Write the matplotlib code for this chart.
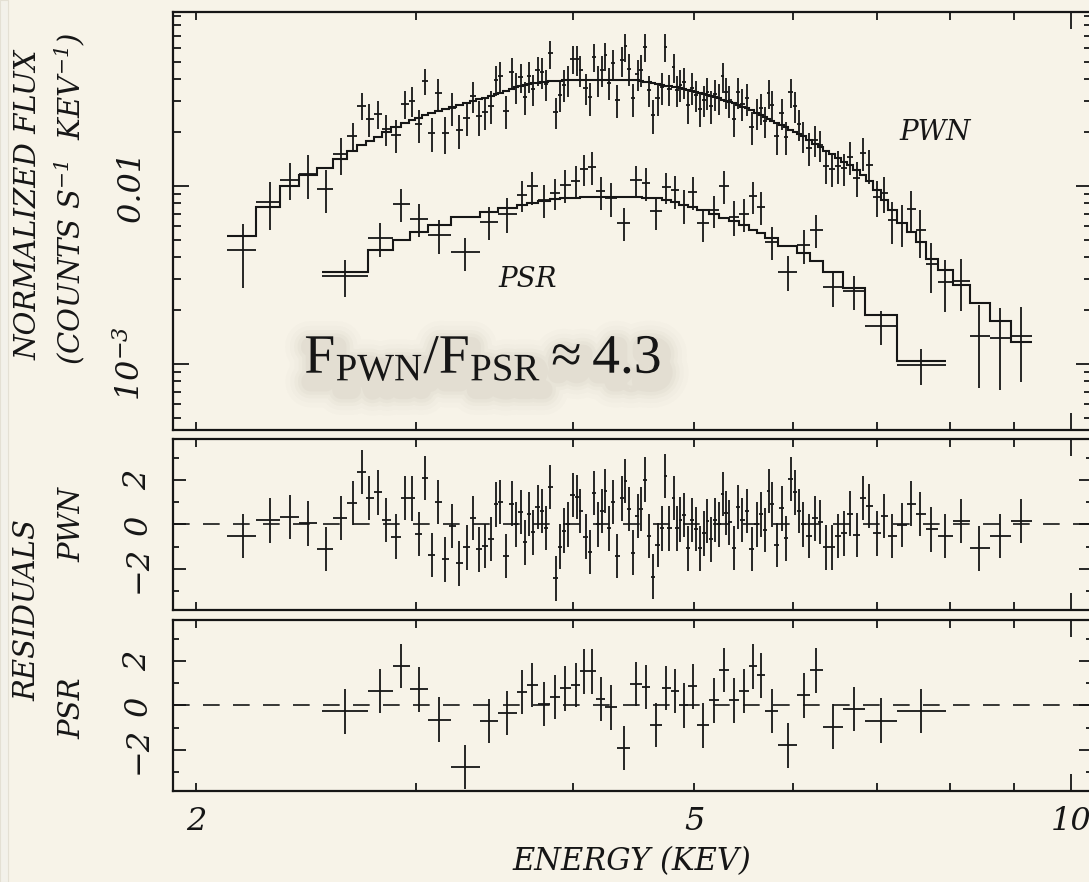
import numpy as np
import matplotlib
matplotlib.use('Agg')
import matplotlib.pyplot as plt
import matplotlib.patheffects as pe
from matplotlib import ticker
from matplotlib.patches import Rectangle

# ---- PSR: bin edges (keV), folded model, residuals (sigma), fractional errors
psr_edges = [2.522, 2.742, 2.873, 2.963, 3.064, 3.197, 3.370, 3.487, 3.606, 3.676,
             3.751, 3.837, 3.908, 3.984, 4.056, 4.113, 4.174, 4.244, 4.338, 4.446,
             4.542, 4.609, 4.710, 4.788, 4.862, 4.946, 5.023, 5.135, 5.236, 5.327,
             5.429, 5.530, 5.607, 5.695, 5.836, 6.043, 6.186, 6.332, 6.577, 6.845,
             7.256, 7.942]
psr_model = [3.30e-3, 4.37e-3, 4.97e-3, 5.54e-3, 6.04e-3, 6.72e-3, 7.19e-3, 7.52e-3,
             7.82e-3, 8.02e-3, 8.24e-3, 8.40e-3, 8.51e-3, 8.62e-3, 8.68e-3, 8.71e-3,
             8.73e-3, 8.73e-3, 8.71e-3, 8.68e-3, 8.62e-3, 8.51e-3, 8.34e-3, 8.13e-3,
             7.82e-3, 7.62e-3, 7.33e-3, 6.96e-3, 6.65e-3, 6.40e-3, 6.04e-3, 5.66e-3,
             5.46e-3, 5.08e-3, 4.60e-3, 4.19e-3, 3.80e-3, 3.30e-3, 2.66e-3, 1.88e-3,
             1.04e-3]
psr_resid = [-0.27, 0.66, 1.79, 0.72, -0.64, -2.78, -0.69, -0.34, 0.60, 0.93,
             0.06, 0.39, 0.77, 0.93, 1.53, 1.53, 0.30, -0.09, -1.92, 0.96,
             0.83, -0.87, 0.78, 0.66, 0.00, 0.86, -0.90, 0.23, 1.59, 0.23,
             0.65, 1.76, 1.35, -0.24, -1.80, 0.45, 1.58, -0.95, -0.16, -0.68,
             -0.24]
psr_ferr = [0.23, 0.22, 0.21, 0.21, 0.22, 0.21, 0.21, 0.22, 0.20, 0.21,
            0.21, 0.20, 0.21, 0.21, 0.20, 0.21, 0.21, 0.22, 0.21, 0.20,
            0.21, 0.21, 0.20, 0.21, 0.22, 0.21, 0.21, 0.20, 0.21, 0.22,
            0.21, 0.20, 0.21, 0.21, 0.22, 0.22, 0.21, 0.23, 0.22, 0.22,
            0.225]

# ---- PWN: bin centres (keV), outer edges, model, residuals, fractional errors
pwn_energy = [2.181, 2.290, 2.377, 2.457, 2.539, 2.611, 2.668, 2.714, 2.751, 2.794,
              2.837, 2.888, 2.939, 2.974, 3.012, 3.049, 3.085, 3.121, 3.162, 3.203,
              3.246, 3.290, 3.327, 3.364, 3.405, 3.443, 3.472, 3.500, 3.537, 3.576,
              3.603, 3.634, 3.663, 3.692, 3.719, 3.749, 3.777, 3.807, 3.835, 3.875,
              3.908, 3.937, 3.966, 3.998, 4.028, 4.055, 4.095, 4.128, 4.158, 4.189,
              4.218, 4.246, 4.275, 4.304, 4.340, 4.376, 4.405, 4.437, 4.470, 4.506,
              4.536, 4.565, 4.598, 4.632, 4.675, 4.710, 4.741, 4.776, 4.815, 4.844,
              4.874, 4.904, 4.940, 4.980, 5.016, 5.053, 5.091, 5.122, 5.157, 5.198,
              5.233, 5.269, 5.298, 5.333, 5.377, 5.416, 5.462, 5.507, 5.561, 5.609,
              5.650, 5.695, 5.734, 5.769, 5.819, 5.873, 5.916, 5.974, 6.015, 6.063,
              6.111, 6.178, 6.244, 6.301, 6.371, 6.438, 6.513, 6.586, 6.659, 6.741,
              6.824, 6.899, 6.994, 7.092, 7.198, 7.331, 7.449, 7.574, 7.729, 7.935,
              8.167, 8.447, 8.774, 9.120]
pwn_lo, pwn_hi = 2.116, 9.301
pwn_model = [0.00526, 0.00765, 0.01000, 0.01153, 0.01257, 0.01413, 0.01579, 0.01699, 0.01789, 0.01892,
             0.02019, 0.02154, 0.02268, 0.02349, 0.02419, 0.02506, 0.02582, 0.02639, 0.02708, 0.02790,
             0.02852, 0.02938, 0.03003, 0.03069, 0.03134, 0.03216, 0.03288, 0.03352, 0.03440, 0.03530,
             0.03599, 0.03646, 0.03693, 0.03741, 0.03776, 0.03805, 0.03840, 0.03855, 0.03874, 0.03890,
             0.03905, 0.03925, 0.03940, 0.03945, 0.03950, 0.03950, 0.03955, 0.03955, 0.03955, 0.03955,
             0.03955, 0.03955, 0.03950, 0.03950, 0.03950, 0.03945, 0.03945, 0.03940, 0.03935, 0.03920,
             0.03890, 0.03865, 0.03825, 0.03791, 0.03741, 0.03707, 0.03669, 0.03631, 0.03599, 0.03584,
             0.03552, 0.03530, 0.03484, 0.03440, 0.03387, 0.03330, 0.03288, 0.03258, 0.03225, 0.03162,
             0.03122, 0.03062, 0.03022, 0.02976, 0.02915, 0.02852, 0.02797, 0.02733, 0.02657, 0.02574,
             0.02506, 0.02440, 0.02376, 0.02333, 0.02272, 0.02200, 0.02145, 0.02065, 0.02012, 0.01961,
             0.01910, 0.01813, 0.01721, 0.01655, 0.01583, 0.01513, 0.01437, 0.01364, 0.01312, 0.01230,
             0.01153, 0.01067, 0.00950, 0.00834, 0.00733, 0.00622, 0.00554, 0.00486, 0.00389, 0.00337,
             0.00278, 0.00220, 0.00174, 0.00133]
pwn_resid = [-0.51, 0.18, 0.34, 0.05, -1.11, 0.28, 0.96, 2.35, 1.20, 1.44,
             0.19, -0.55, 1.20, 1.17, -0.43, 2.10, -1.38, 1.02, -1.57, -0.07,
             -1.75, -1.03, 0.30, -1.12, -0.97, -0.66, 0.90, 1.02, -1.41, 0.94,
             0.00, 0.57, -0.81, 0.48, -0.36, 0.79, 0.61, -0.15, 1.69, -2.43,
             -1.00, -0.28, 0.00, 1.32, 1.23, 0.60, -0.55, -1.23, 1.42, 0.00,
             0.60, 1.50, -0.18, 1.02, -1.41, 1.17, 1.96, 0.69, -1.27, 0.39,
             0.69, 2.02, -0.51, -2.35, -0.93, -0.18, 2.19, -0.18, 1.20, -0.18,
             0.22, 0.42, -1.08, 0.19, -0.21, -1.08, -0.40, 0.15, -0.67, 0.19,
             0.00, 1.36, 0.52, 0.09, -1.05, 0.79, 0.19, 0.60, -1.11, 0.00,
             0.45, -0.25, 1.51, 0.90, -0.93, 0.72, -0.63, 2.04, 1.44, 0.61,
             0.00, -0.51, 0.27, 0.12, -1.03, -1.03, -0.51, -0.40, 0.49, -0.48,
             1.20, 0.84, -0.40, 0.39, -0.51, -0.03, 0.94, 0.46, -0.22, -0.52,
             0.16, -1.08, -0.51, 0.16]
pwn_ferr = [0.39, 0.30, 0.235, 0.28, 0.27, 0.235, 0.18, 0.17, 0.21, 0.18,
            0.20, 0.21, 0.18, 0.19, 0.21, 0.17, 0.22, 0.20, 0.235, 0.21,
            0.22, 0.21, 0.20, 0.22, 0.21, 0.21, 0.19, 0.19, 0.21, 0.20,
            0.20, 0.19, 0.21, 0.20, 0.20, 0.19, 0.20, 0.20, 0.18, 0.20,
            0.20, 0.20, 0.20, 0.18, 0.19, 0.20, 0.20, 0.21, 0.18, 0.20,
            0.20, 0.18, 0.20, 0.19, 0.21, 0.19, 0.18, 0.20, 0.21, 0.20,
            0.20, 0.18, 0.20, 0.22, 0.21, 0.20, 0.18, 0.20, 0.19, 0.20,
            0.20, 0.20, 0.21, 0.20, 0.20, 0.21, 0.20, 0.20, 0.21, 0.20,
            0.20, 0.19, 0.20, 0.20, 0.21, 0.20, 0.20, 0.20, 0.21, 0.20,
            0.20, 0.20, 0.19, 0.20, 0.21, 0.20, 0.21, 0.19, 0.20, 0.20,
            0.20, 0.21, 0.20, 0.20, 0.21, 0.21, 0.21, 0.21, 0.21, 0.22,
            0.21, 0.22, 0.23, 0.23, 0.265, 0.265, 0.27, 0.30, 0.31, 0.324,
            0.324, 0.49, 0.49, 0.45]

INK = '#161616'
PAPER = '#f7f3e8'

plt.rcParams['font.family'] = ['DejaVu Serif']
plt.rcParams['font.style'] = 'italic'
plt.rcParams['font.size'] = 21
plt.rcParams['mathtext.fontset'] = 'custom'
plt.rcParams['mathtext.rm'] = 'DejaVu Serif:style=italic'
plt.rcParams['mathtext.it'] = 'DejaVu Serif:style=italic'
plt.rcParams['mathtext.sf'] = 'Liberation Serif:style=normal'


def bins_from_edges(edges):
    edges = np.asarray(edges)
    return edges, np.sqrt(edges[:-1] * edges[1:])


def bins_from_centres(centres, lo, hi):
    c = np.asarray(centres)
    edges = np.concatenate([[lo], np.sqrt(c[:-1] * c[1:]), [hi]])
    return edges, c


def data_points(model, resid, ferr):
    model, resid, ferr = map(np.asarray, (model, resid, ferr))
    flux = model / (1.0 - resid * ferr)
    return flux, ferr * flux


def style_x(ax, labels=False):
    ax.set_xscale('log')
    ax.set_xlim(1.9172, 10.391)
    ax.xaxis.set_major_locator(ticker.FixedLocator([10]))
    ax.xaxis.set_minor_locator(ticker.FixedLocator([2, 3, 4, 5, 6, 7, 8, 9]))
    if labels:
        ax.xaxis.set_major_formatter(ticker.FixedFormatter(['10']))
        ax.xaxis.set_minor_formatter(ticker.FuncFormatter(
            lambda v, p: '%d' % round(v) if round(v) in (2, 5) else ''))
    else:
        ax.xaxis.set_major_formatter(ticker.NullFormatter())
        ax.xaxis.set_minor_formatter(ticker.NullFormatter())
    ax.tick_params(axis='x', which='minor', length=6)
    ax.tick_params(axis='x', which='major', length=12)
    ax.tick_params(axis='x', which='both', pad=11, labelsize=23)
    ax.tick_params(which='both', direction='in', top=True, right=True,
                   width=1.3, color=INK, labelcolor=INK)
    ax.set_facecolor(PAPER)
    for sp in ax.spines.values():
        sp.set_linewidth(1.6)
        sp.set_color(INK)


def rotate_ylabels(ax):
    for lbl in ax.get_yticklabels():
        lbl.set_rotation(90)
        lbl.set_va('center')
        lbl.set_ha('right')


fig = plt.figure(figsize=(10.89, 8.82), dpi=100, facecolor=PAPER)
fig.patches.append(Rectangle((0, 0), 8 / 1089, 1, transform=fig.transFigure,
                             facecolor='#f3f1ea', edgecolor='#e4e0d4', lw=0.8))

L, W = 173 / 1089, 919 / 1089
ax_top = fig.add_axes([L, 0.5125, W, 0.4739])
ax_pwn = fig.add_axes([L, 0.3084, W, 0.1939])
ax_psr = fig.add_axes([L, 0.1032, W, 0.1939])

psr_e, psr_c = bins_from_edges(psr_edges)
pwn_e, pwn_c = bins_from_centres(pwn_energy, pwn_lo, pwn_hi)
psr_f, psr_s = data_points(psr_model, psr_resid, psr_ferr)
pwn_f, pwn_s = data_points(pwn_model, pwn_resid, pwn_ferr)

bar = dict(fmt='none', ecolor=INK, elinewidth=1.3, capsize=0)

# ---- spectra
for e, c, f, s, m in ((pwn_e, pwn_c, pwn_f, pwn_s, pwn_model),
                      (psr_e, psr_c, psr_f, psr_s, psr_model)):
    ax_top.errorbar(c, f, yerr=s, xerr=[c - e[:-1], e[1:] - c], **bar)
    ax_top.stairs(m, e, baseline=None, color=INK, lw=1.5)

ax_top.set_yscale('log')
ax_top.set_ylim(4.26e-4, 0.095)
style_x(ax_top)
ax_top.yaxis.set_major_locator(ticker.FixedLocator([1e-3, 1e-2]))
ax_top.yaxis.set_major_formatter(ticker.FixedFormatter([r'$10^{-3}$', '0.01']))
ax_top.yaxis.set_minor_locator(ticker.LogLocator(base=10, subs=np.arange(2, 10), numticks=20))
ax_top.yaxis.set_minor_formatter(ticker.NullFormatter())
ax_top.tick_params(axis='y', which='major', length=11.5, pad=19, labelsize=23)
ax_top.tick_params(axis='y', which='minor', length=5.8)
rotate_ylabels(ax_top)

ax_top.text(0.829, 0.711, 'PWN', transform=ax_top.transAxes, ha='center',
            va='center', fontsize=20, color=INK)
ax_top.text(0.386, 0.359, 'PSR', transform=ax_top.transAxes, ha='center',
            va='center', fontsize=20, color=INK)

# soft drop shadow under the flux-ratio note (outline strokes only, no ghost fill)
shadow = [pe.PathPatchEffect(offset=(3, -7), edgecolor='#6b604c', facecolor='none',
                             linewidth=w, alpha=a, joinstyle='round', capstyle='round')
          for w, a in ((36, 0.016), (29, 0.02), (23, 0.026), (18, 0.032),
                       (13, 0.038))]
ratio = ax_top.text(0.337, 0.136, r'$\mathsf{F_{PWN}/F_{PSR} \approx 4.3}$',
                    transform=ax_top.transAxes, ha='center', va='baseline',
                    fontsize=40, color=INK)
ratio.set_path_effects(shadow + [pe.Normal()])

# ---- residuals
for ax, e, c, r in ((ax_pwn, pwn_e, pwn_c, pwn_resid),
                    (ax_psr, psr_e, psr_c, psr_resid)):
    ax.errorbar(c, r, yerr=1.0, xerr=[c - e[:-1], e[1:] - c], **bar)
    ax.axhline(0, color=INK, lw=1.2, ls=(0, (10, 8)))
    ax.set_ylim(-3.85, 3.85)
    style_x(ax, labels=(ax is ax_psr))
    ax.yaxis.set_major_locator(ticker.FixedLocator([-2, 0, 2]))
    ax.yaxis.set_minor_locator(ticker.FixedLocator([-3, -1, 1, 3]))
    ax.yaxis.set_major_formatter(ticker.FixedFormatter(['\u22122', '0', '2']))
    ax.tick_params(axis='y', which='major', length=9.4, pad=14, labelsize=23)
    ax.tick_params(axis='y', which='minor', length=4.3)
    rotate_ylabels(ax)

# ---- axis titles
fig.text(0.0266, 0.7676, 'NORMALIZED FLUX', rotation=90, ha='center', va='center', color=INK)
fig.text(0.0643, 0.7755, r'(COUNTS S$^{-1}$  KEV$^{-1}$)', rotation=90,
         ha='center', va='center', color=INK)
fig.text(0.0248, 0.3084, 'RESIDUALS', rotation=90, ha='center', va='center', color=INK)
fig.text(0.0661, 0.4048, 'PWN', rotation=90, ha='center', va='center', color=INK)
fig.text(0.0661, 0.1973, 'PSR', rotation=90, ha='center', va='center', color=INK)
fig.text(0.5803, 0.0227, 'ENERGY (KEV)', ha='center', va='center', color=INK, fontsize=22)

fig.savefig('out.png', dpi=100, facecolor=PAPER)
